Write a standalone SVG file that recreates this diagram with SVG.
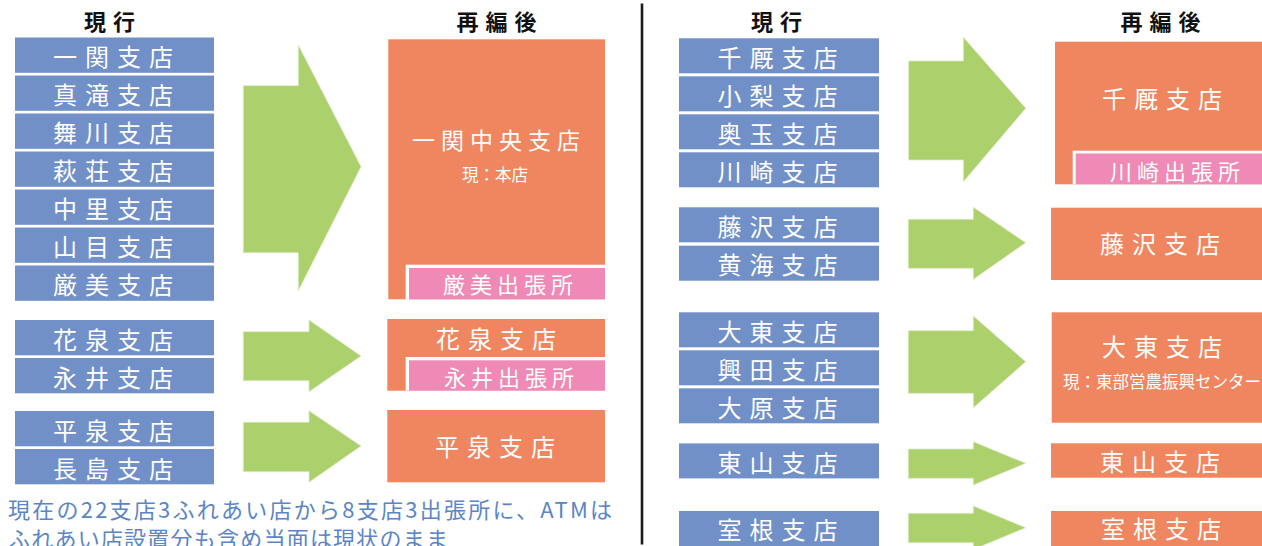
<svg xmlns="http://www.w3.org/2000/svg" width="1262" height="546" viewBox="0 0 1262 546">
<style>
text{font-family:"Noto Sans CJK JP","Noto Sans",sans-serif;}
.cur{fill:#7290c8;}
.new{fill:#ef8660;}
.sub{fill:#ee8ab5;}
.wb{fill:#ffffff;}
.arr{fill:#abd06c;stroke:#dcebc4;stroke-width:0.8;}
.hd{font-size:22px;font-weight:bold;fill:#111;letter-spacing:7px;text-anchor:middle;}
.bt{font-size:24px;fill:#fff;letter-spacing:8px;text-anchor:middle;}
.bt2{font-size:23px;fill:#fff;letter-spacing:6px;text-anchor:middle;}
.st{font-size:22px;fill:#fff;letter-spacing:5px;text-anchor:middle;}
.nt{font-size:16.5px;fill:#fff;text-anchor:middle;}
.note{font-size:22px;fill:#5b85c6;}
</style>
<rect width="1262" height="546" fill="#ffffff"/>
<line x1="642" y1="3.5" x2="642" y2="544.5" stroke="#1a1a1a" stroke-width="2.6"/>
<g id="headers">
<text class="hd" x="113" y="30">現行</text>
<text class="hd" x="500" y="30">再編後</text>
<text class="hd" x="780" y="30">現行</text>
<text class="hd" x="1164" y="30">再編後</text>
</g>
<g id="connectors">
<polygon class="arr" points="243.3,85.7 298.3,85.7 298.3,45 361,166.7 298.3,290.7 298.3,252.7 243.3,252.7"/>
<polygon class="arr" points="243.3,331.7 309,331.7 309,320 361,356 309,391.7 309,380.7 243.3,380.7"/>
<polygon class="arr" points="243.3,422.3 309,422.3 309,410.7 361,446 309,482.3 309,471.7 243.3,471.7"/>
<polygon class="arr" points="908.6,61 963.4,61 963.4,37.3 1025.7,108.3 963.4,181.7 963.4,160 908.6,160"/>
<polygon class="arr" points="908.3,219.3 973.3,219.3 973.3,207.3 1025.7,242.7 973.3,279.3 973.3,268.3 908.3,268.3"/>
<polygon class="arr" points="908.3,330.7 973.3,330.7 973.3,316 1025.7,361.7 973.3,407.7 973.3,393.3 908.3,393.3"/>
<polygon class="arr" points="908.3,449 973.3,449 973.3,441.7 1025.7,463.3 973.3,485 973.3,478.3 908.3,478.3"/>
<polygon class="arr" points="908.3,513.3 973.3,513.3 973.3,506 1025.7,527.7 973.3,549.4 973.3,542.7 908.3,542.7"/>
</g>
<g id="cur-ichinoseki"><rect class="cur" x="15" y="37.5" width="199" height="35.3"/><text class="bt" x="117" y="66">一関支店</text></g>
<g id="cur-masaki"><rect class="cur" x="15" y="75.5" width="199" height="35.3"/><text class="bt" x="117" y="104">真滝支店</text></g>
<g id="cur-maikawa"><rect class="cur" x="15" y="113.5" width="199" height="35.3"/><text class="bt" x="117" y="142">舞川支店</text></g>
<g id="cur-hagisho"><rect class="cur" x="15" y="151.5" width="199" height="35.3"/><text class="bt" x="117" y="180">萩荘支店</text></g>
<g id="cur-nakasato"><rect class="cur" x="15" y="189.5" width="199" height="35.3"/><text class="bt" x="117" y="218">中里支店</text></g>
<g id="cur-yamanome"><rect class="cur" x="15" y="227.5" width="199" height="35.3"/><text class="bt" x="117" y="256">山目支店</text></g>
<g id="cur-genbi"><rect class="cur" x="15" y="265.5" width="199" height="35.3"/><text class="bt" x="117" y="294">厳美支店</text></g>
<g id="cur-hanaizumi"><rect class="cur" x="15" y="320" width="199" height="35.3"/><text class="bt" x="117" y="348.5">花泉支店</text></g>
<g id="cur-nagai"><rect class="cur" x="15" y="358" width="199" height="35.3"/><text class="bt" x="117" y="386.5">永井支店</text></g>
<g id="cur-hiraizumi"><rect class="cur" x="15" y="411" width="199" height="35.3"/><text class="bt" x="117" y="439.5">平泉支店</text></g>
<g id="cur-nagashima"><rect class="cur" x="15" y="449" width="199" height="35.3"/><text class="bt" x="117" y="477.5">長島支店</text></g>
<g id="new-ichinoseki-chuo"><rect class="new" x="388.3" y="39.3" width="216.7" height="260"/><text class="bt2" x="499" y="148.5">一関中央支店</text><text class="nt" x="495" y="181">現：本店</text></g>
<g id="new-genbi"><rect class="wb" x="405.7" y="264.7" width="199.3" height="34.6"/><rect class="sub" x="409" y="268" width="196" height="31.3"/><text class="st" x="510.5" y="293">厳美出張所</text></g>
<g id="new-hanaizumi"><rect class="new" x="387.3" y="319" width="217.7" height="71.7"/><text class="bt" x="500" y="347.5">花泉支店</text></g>
<g id="new-nagai"><rect class="wb" x="405.7" y="357" width="199.3" height="33.7"/><rect class="sub" x="409" y="360.3" width="196" height="30.4"/><text class="st" x="511.5" y="386">永井出張所</text></g>
<g id="new-hiraizumi"><rect class="new" x="387.3" y="410" width="217.7" height="72.3"/><text class="bt" x="499" y="456">平泉支店</text></g>
<g id="cur-senmaya"><rect class="cur" x="679" y="38.3" width="200" height="35"/><text class="bt" x="781.5" y="66.5">千厩支店</text></g>
<g id="cur-kozaki"><rect class="cur" x="679" y="76.3" width="200" height="35"/><text class="bt" x="781.5" y="104.5">小梨支店</text></g>
<g id="cur-okutama"><rect class="cur" x="679" y="114.3" width="200" height="35"/><text class="bt" x="781.5" y="142.5">奥玉支店</text></g>
<g id="cur-kawasaki"><rect class="cur" x="679" y="152.3" width="200" height="35"/><text class="bt" x="781.5" y="180.5">川崎支店</text></g>
<g id="cur-fujisawa"><rect class="cur" x="679" y="207.3" width="200" height="35"/><text class="bt" x="781.5" y="235.5">藤沢支店</text></g>
<g id="cur-kikai"><rect class="cur" x="679" y="245.7" width="200" height="35"/><text class="bt" x="781.5" y="274">黄海支店</text></g>
<g id="cur-daito"><rect class="cur" x="679" y="312.3" width="200" height="35"/><text class="bt" x="781.5" y="340.5">大東支店</text></g>
<g id="cur-okita"><rect class="cur" x="679" y="350.3" width="200" height="35"/><text class="bt" x="781.5" y="378.5">興田支店</text></g>
<g id="cur-ohara"><rect class="cur" x="679" y="388.3" width="200" height="35"/><text class="bt" x="781.5" y="416.5">大原支店</text></g>
<g id="cur-higashiyama"><rect class="cur" x="679" y="443.4" width="200" height="35"/><text class="bt" x="781.5" y="471.5">東山支店</text></g>
<g id="cur-murone"><rect class="cur" x="679" y="511" width="200" height="35"/><text class="bt" x="781.5" y="539">室根支店</text></g>
<g id="new-senmaya"><rect class="new" x="1055" y="41.7" width="215" height="142.6"/><text class="bt" x="1166" y="107.5">千厩支店</text></g>
<g id="new-kawasaki"><rect class="wb" x="1072.7" y="150.7" width="197.3" height="33.6"/><rect class="sub" x="1075.7" y="153.5" width="194.3" height="30.8"/><text class="st" x="1177.5" y="179.5">川崎出張所</text></g>
<g id="new-fujisawa"><rect class="new" x="1051" y="207.7" width="219" height="72.3"/><text class="bt" x="1164" y="253">藤沢支店</text></g>
<g id="new-daito"><rect class="new" x="1051.7" y="312.3" width="218.3" height="110.4"/><text class="bt" x="1166" y="355.5">大東支店</text><text class="nt" x="1162" y="387.5">現：東部営農振興センター</text></g>
<g id="new-higashiyama"><rect class="new" x="1051" y="443.3" width="219" height="34.4"/><text class="bt" x="1164" y="470.5">東山支店</text></g>
<g id="new-murone"><rect class="new" x="1051" y="511" width="219" height="40"/><text class="bt" x="1165" y="538">室根支店</text></g>
<g id="note">
<text class="note" x="8" y="517.5" textLength="604" lengthAdjust="spacing">現在の22支店3ふれあい店から8支店3出張所に、ATMは</text>
<text class="note" x="8" y="547" textLength="440" lengthAdjust="spacing">ふれあい店設置分も含め当面は現状のまま</text>
</g>
</svg>
